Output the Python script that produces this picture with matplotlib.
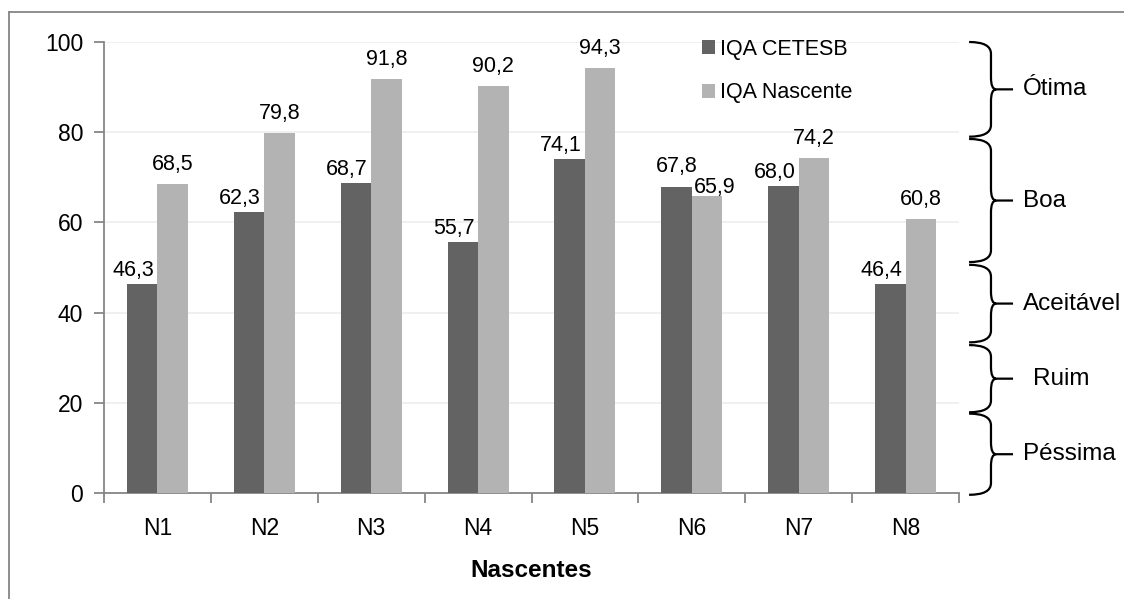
import numpy as np
import matplotlib.pyplot as plt
from matplotlib.path import Path
from matplotlib.patches import PathPatch
from matplotlib.lines import Line2D

plt.rcParams['font.family'] = ['Liberation Sans', 'DejaVu Sans']

nascentes = ['N1', 'N2', 'N3', 'N4', 'N5', 'N6', 'N7', 'N8']
iqa_cetesb = [46.3, 62.3, 68.7, 55.7, 74.1, 67.8, 68.0, 46.4]
iqa_nascente = [68.5, 79.8, 91.8, 90.2, 94.3, 65.9, 74.2, 60.8]

# quality classes shown as braces on the right (upper, lower bound)
classes = ['Ótima', 'Boa', 'Aceitável', 'Ruim', 'Péssima']
class_bounds = [(100, 79), (78.5, 51.2), (50.6, 33.4), (32.8, 17.9), (17.6, -0.4)]

dark = '#636363'
light = '#b3b3b3'


def fmt(v):
    return ('%.1f' % v).replace('.', ',')


fig = plt.figure(figsize=(11.24, 5.99), dpi=100)
ax = fig.add_axes([104 / 1124, 1 - 493 / 599, 855 / 1124, 451 / 599])

x = np.arange(len(nascentes))
w = 0.285
ax.bar(x - w / 2, iqa_cetesb, w, color=dark, label='IQA CETESB', zorder=3)
ax.bar(x + w / 2, iqa_nascente, w, color=light, label='IQA Nascente', zorder=3)

# value labels, nudged apart where N6 labels would collide
for i in range(len(nascentes)):
    dx1, dy1 = (-9, 8) if i != 5 else (0, 15)
    dx2, dy2 = (0, 14) if i != 5 else (8, 3)
    ax.annotate(fmt(iqa_cetesb[i]), (x[i] - w / 2, iqa_cetesb[i]),
                xytext=(dx1, dy1), textcoords='offset pixels',
                ha='center', va='baseline', fontsize=15.5)
    ax.annotate(fmt(iqa_nascente[i]), (x[i] + w / 2, iqa_nascente[i]),
                xytext=(dx2, dy2), textcoords='offset pixels',
                ha='center', va='baseline', fontsize=15.5)

ax.set_xlim(-0.5, len(nascentes) - 0.5)
ax.set_ylim(0, 100)
ax.set_yticks(range(0, 101, 20))
ax.grid(axis='y', color='#efefef', lw=1.3, zorder=0)
ax.set_xticks(x)
ax.set_xticklabels(nascentes)
ax.set_xticks(np.arange(-0.5, len(nascentes)), minor=True)
ax.tick_params(axis='x', which='major', length=0, pad=17, labelsize=16.5)
ax.tick_params(axis='x', which='minor', length=7, color='#868686', width=1.3)
ax.tick_params(axis='y', length=7, color='#868686', width=1.3, pad=8, labelsize=16.5)
for s in ['top', 'right']:
    ax.spines[s].set_visible(False)
for s in ['left', 'bottom']:
    ax.spines[s].set_color('#868686')
    ax.spines[s].set_linewidth(1.3)
ax.set_xlabel('Nascentes', fontsize=17.5, fontweight='bold', labelpad=14)

ax.legend(loc='upper left', bbox_to_anchor=(691 / 1124, 1 - 28 / 599),
          bbox_transform=fig.transFigure, frameon=False, fontsize=15.5,
          handlelength=0.6, handleheight=0.6, handletextpad=0.25,
          labelspacing=1.05, borderpad=0)

# curly braces marking the quality classes
tr = ax.get_yaxis_transform()
x0, x1, xtip = 1.0118, 1.0374, 1.0632
r = 2.6
d = 0.006
for name, (top, bot) in zip(classes, class_bounds):
    mid = (top + bot) / 2
    verts = [(x0, top), (x1, top), (x1, top - r),
             (x1, mid + r), (x1, mid), (x1 + d, mid),
             (xtip, mid),
             (x1 + d, mid), (x1, mid), (x1, mid - r),
             (x1, bot + r), (x1, bot), (x0, bot)]
    codes = [Path.MOVETO, Path.CURVE3, Path.CURVE3,
             Path.LINETO, Path.CURVE3, Path.CURVE3,
             Path.LINETO,
             Path.MOVETO, Path.CURVE3, Path.CURVE3,
             Path.LINETO, Path.CURVE3, Path.CURVE3]
    ax.add_patch(PathPatch(Path(verts, codes), transform=tr, fill=False,
                           edgecolor='black', lw=1.6, clip_on=False))
    tx = 1.0866 if name == 'Ruim' else 1.0745
    ax.text(tx, mid, name, transform=tr, ha='left', va='center', fontsize=17.5)

# outer chart frame
fig.add_artist(Line2D([9 / 1124, 9 / 1124], [0, 1 - 12 / 599], color='#868686', lw=1.3))
fig.add_artist(Line2D([9 / 1124, 1], [1 - 12 / 599, 1 - 12 / 599], color='#868686', lw=1.3))

fig.savefig('out.png', dpi=100)
